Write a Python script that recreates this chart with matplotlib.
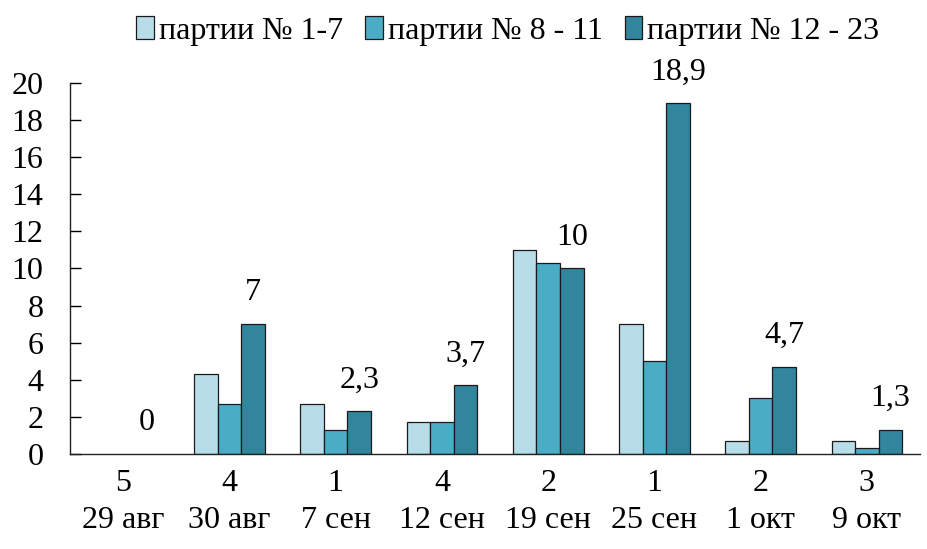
import numpy as np
import matplotlib
matplotlib.use("Agg")
import matplotlib.pyplot as plt

plt.rcParams['font.family'] = ['Liberation Serif', 'DejaVu Serif']

counts = ['5', '4', '1', '4', '2', '1', '2', '3']
dates = ['29 авг', '30 авг', '7 сен', '12 сен', '19 сен', '25 сен', '1 окт', '9 окт']
series_names = ['партии № 1-7', 'партии № 8 - 11', 'партии № 12 - 23']
s1 = [0, 4.3, 2.7, 1.7, 11.0, 7.0, 0.7, 0.7]
s2 = [0, 2.7, 1.3, 1.7, 10.3, 5.0, 3.0, 0.3]
s3 = [0, 7.0, 2.3, 3.7, 10.0, 18.9, 4.7, 1.3]
s3_labels = ['0', '7', '2,3', '3,7', '10', '18,9', '4,7', '1,3']

colors = ['#b7dde8', '#4bacc6', '#31859c']
fs = 23

fig = plt.figure(figsize=(9.27, 5.49), dpi=100)
ax = fig.add_axes([0.0755, 0.173, 0.917, 0.676])

x = np.arange(len(dates))
w = 0.222
for i, (vals, col, name) in enumerate(zip([s1, s2, s3], colors, series_names)):
    lw = [0.9 if v > 0 else 0 for v in vals]
    ax.bar(x + (i - 1) * w, vals, w, color=col, edgecolor='#1a1a1a',
           linewidth=lw, label=name)

for xi, v, lab in zip(x, s3, s3_labels):
    ax.annotate(lab, (xi + w, v), xytext=(0, 12), textcoords='offset points',
                ha='center', va='bottom', fontsize=fs)

ax.set_xlim(-0.5, len(dates) - 0.5)
ax.set_ylim(0, 20)
ax.set_yticks(range(0, 21, 2))
ax.set_xticks(x)
ax.set_xticklabels([f'{c}\n{d}' for c, d in zip(counts, dates)], linespacing=1.35)
ax.tick_params(axis='y', direction='in', length=8, width=1, pad=19, labelsize=fs)
ax.tick_params(axis='x', length=0, pad=11, labelsize=fs)

for s in ['top', 'right']:
    ax.spines[s].set_visible(False)
for s in ['left', 'bottom']:
    ax.spines[s].set_linewidth(1)
    ax.spines[s].set_color('#222222')

leg = ax.legend(loc='center', bbox_to_anchor=(0.515, 1.14), ncol=3, frameon=False,
                fontsize=fs, handlelength=0.55, handleheight=0.7, handletextpad=0.15,
                columnspacing=0.7, borderaxespad=0)
for h in leg.legend_handles:
    h.set_linewidth(0.9)

fig.savefig('out.png', dpi=100)
